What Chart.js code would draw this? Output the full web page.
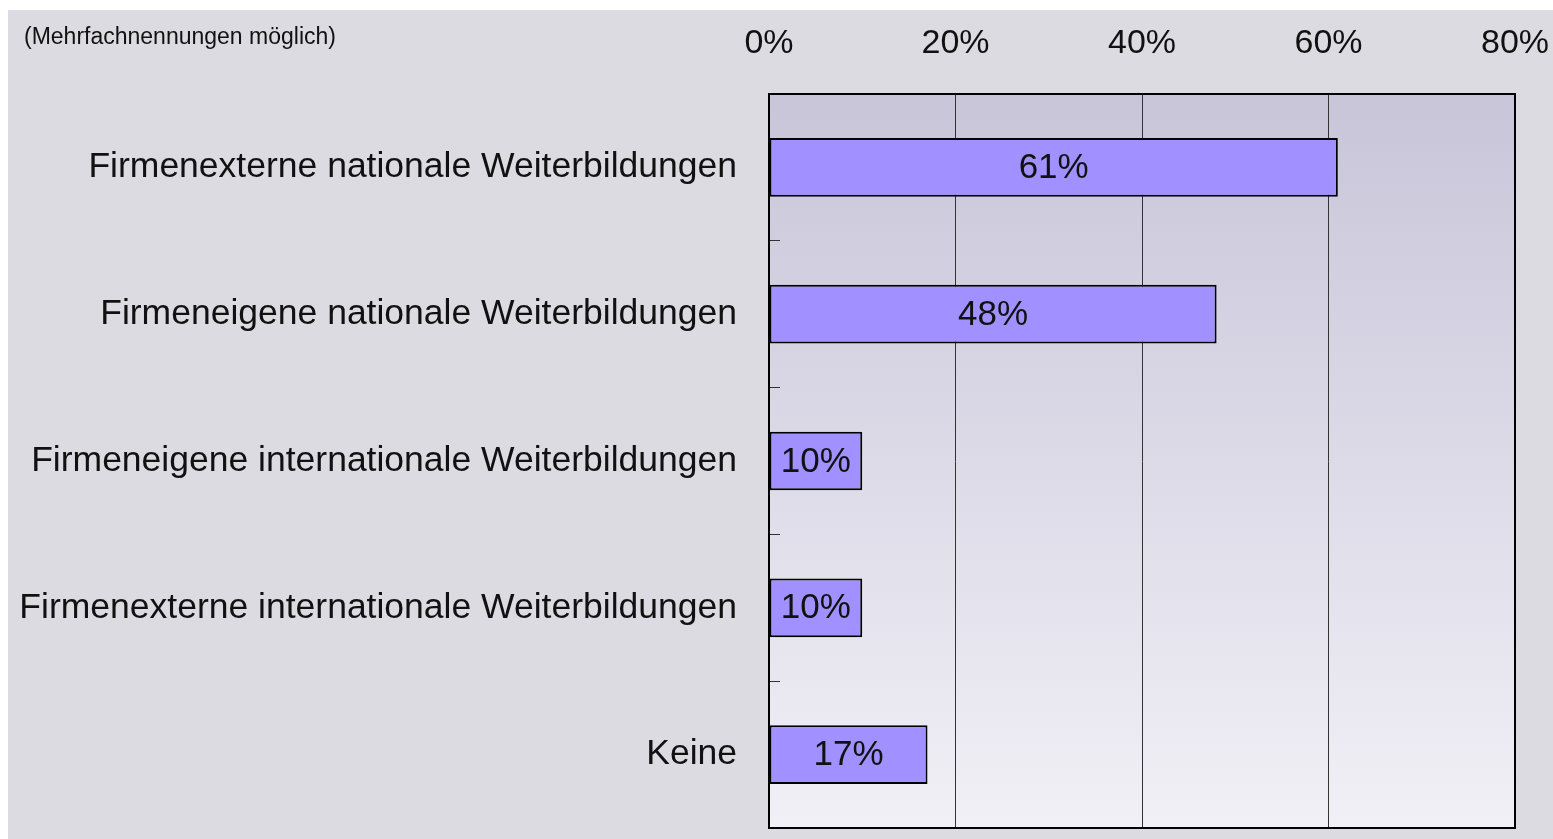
<!DOCTYPE html>
<html>
<head>
<meta charset="utf-8">
<script src="https://cdn.jsdelivr.net/npm/chart.js@4.4.0/dist/chart.umd.min.js"></script>
<style>
  body { margin: 0; background: #ffffff; }
  #wrap { position: absolute; left: 8px; top: 10px; width: 1545px; height: 829px; background: #dcdbe1; }
  #note { position: absolute; left: 16px; top: 13px; font: 23px "Liberation Sans", Arial, sans-serif; color: #111; }
  canvas { position: absolute; left: 0; top: 0; }
</style>
</head>
<body>
<div id="wrap">
  <canvas id="chart" width="1545" height="829"></canvas>
  <div id="note">(Mehrfachnennungen möglich)</div>
</div>
<script>
// data ----------
const categories = [
    'Firmenexterne nationale Weiterbildungen',
    'Firmeneigene nationale Weiterbildungen',
    'Firmeneigene internationale Weiterbildungen',
    'Firmenexterne internationale Weiterbildungen',
    'Keine'
];
const values = [61, 48, 10, 10, 17];
const xTicks = [0, 20, 40, 60, 80];

const FONT = '"Liberation Sans", Arial, sans-serif';

// gradient behind the plot
const plotBackground = {
    id: 'plotBackground',
    beforeDraw(chart) {
        const { ctx, chartArea: a } = chart;
        const g = ctx.createLinearGradient(0, a.top, 0, a.bottom);
        g.addColorStop(0, '#c8c5d9');
        g.addColorStop(1, '#f1f0f6');
        ctx.save();
        ctx.fillStyle = g;
        ctx.fillRect(a.left, a.top, a.right - a.left, a.bottom - a.top);
        ctx.restore();
    }
};

// value labels centred in the bars
const barLabels = {
    id: 'barLabels',
    afterDatasetsDraw(chart) {
        const { ctx } = chart;
        const meta = chart.getDatasetMeta(0);
        ctx.save();
        ctx.font = '35px ' + FONT;
        ctx.fillStyle = '#111';
        ctx.textAlign = 'center';
        ctx.textBaseline = 'middle';
        meta.data.forEach((bar, i) => {
            const x = (bar.base + bar.x) / 2;
            ctx.fillText(values[i] + '%', x, bar.y + 1);
        });
        ctx.restore();
    }
};

new Chart(document.getElementById('chart'), {
    type: 'bar',
    data: {
        labels: categories,
        datasets: [{
            data: values,
            backgroundColor: '#a190ff',
            borderColor: '#000',
            borderWidth: 2,
            borderSkipped: false,
            barPercentage: 0.4,
            categoryPercentage: 1
        }]
    },
    options: {
        indexAxis: 'y',
        responsive: false,
        animation: false,
        layout: { padding: { left: 0, right: 38, top: 0, bottom: 11 } },
        plugins: { legend: { display: false }, tooltip: { enabled: false } },
        scales: {
            x: {
                position: 'top',
                min: 0,
                max: 80,
                afterBuildTicks: (scale) => { scale.ticks = xTicks.map(v => ({ value: v })); },
                afterFit: (scale) => {
                    scale.height = 84;
                    scale.paddingLeft = 0;
                    scale.paddingRight = 0;
                },
                ticks: {
                    padding: 30,
                    color: '#111',
                    font: { family: FONT, size: 34 },
                    callback: (v) => v + '%'
                },
                grid: { color: '#333', lineWidth: 1, drawTicks: false },
                border: { color: '#000', width: 2 }
            },
            y: {
                afterFit: (scale) => {
                    scale.width = 761;
                    scale.paddingTop = 0;
                    scale.paddingBottom = 0;
                },
                ticks: {
                    padding: 43,
                    color: '#111',
                    font: { family: FONT, size: 35.5 }
                },
                grid: { offset: true, drawOnChartArea: false, drawTicks: true, tickLength: -11, color: '#333' },
                border: { color: '#000', width: 2 }
            }
        }
    },
    plugins: [plotBackground, barLabels, {
        // close the frame on right and bottom
        id: 'frame',
        afterDraw(chart) {
            const { ctx, chartArea: a } = chart;
            ctx.save();
            ctx.strokeStyle = '#000';
            ctx.lineWidth = 2;
            ctx.strokeRect(a.left, a.top, a.right - a.left, a.bottom - a.top);
            ctx.restore();
        }
    }]
});
</script>
</body>
</html>
